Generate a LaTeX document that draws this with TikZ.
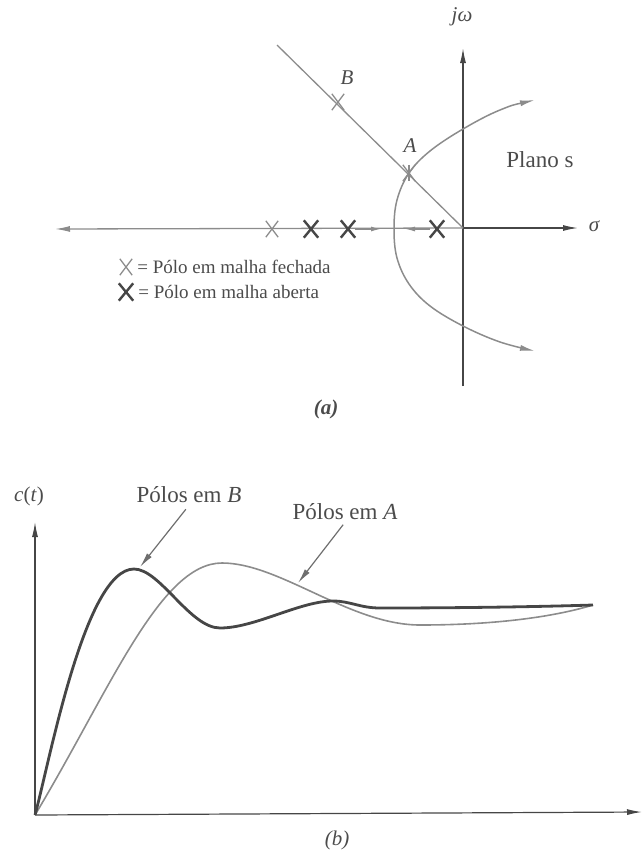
\documentclass[tikz,border=0pt]{standalone}
\usepackage{fontspec}
\setmainfont{Liberation Serif}
\usepackage{xcolor}
\definecolor{AxisGray}{RGB}{70,70,70}
\definecolor{LocusGray}{RGB}{140,140,140}
\definecolor{MidGray}{RGB}{110,110,110}
\definecolor{TextGray}{RGB}{75,75,75}
\usetikzlibrary{shapes.misc, arrows.meta, positioning, calc}
\tikzset{
  % Axes
  axis/.style={draw=AxisGray, line width=1.3pt, -{Latex[length=15pt,width=6pt]}},
  % Root locus branches
  locus/.style={draw=LocusGray, line width=1.5pt},
  locarr/.style={locus, -{Latex[length=10pt,width=5pt]}},
  % Poles
  clpole/.style={cross out, draw=LocusGray, line width=1.3pt,
    minimum width=11pt, minimum height=15pt, inner sep=0pt},
  olpole/.style={cross out, draw=AxisGray, line width=2.4pt,
    minimum width=12pt, minimum height=15pt, inner sep=0pt},
  % Step responses
  respB/.style={draw=AxisGray, line width=2.8pt, line join=round},
  respA/.style={draw=LocusGray, line width=1.6pt, line join=round},
  % Pointer arrows
  ptr/.style={draw=MidGray, line width=1.2pt, -{Latex[length=15pt,width=6pt]}},
  % Texts
  lbl/.style={text=TextGray, inner sep=2pt},
  big/.style={font=\fontsize{23}{27}\selectfont},
  small/.style={font=\fontsize{19}{23}\selectfont},
  ital/.style={font=\fontsize{21}{25}\selectfont\itshape},
}

\begin{document}
\begin{tikzpicture}[x=1pt, y=-1pt, font=\fontsize{21}{25}\selectfont]

  \useasboundingbox (0,0) rectangle (643,854);

  %% (a) s-plane
  \coordinate (O) at (463,228);
  \coordinate (jwtop) at (463,48);
  \coordinate (jwbot) at (463,386);
  \coordinate (sleft) at (55,229);
  \coordinate (sright) at (578,228);
  \coordinate (dtop) at (277,45);

  \draw[axis] (jwbot) -- (jwtop);
  \draw[locus, line width=1.3pt, {Latex[length=15pt,width=6pt]}-] (sleft) -- (O);
  \draw[axis] (O) -- (sright);
  \draw[locus, line width=1.3pt] (dtop) -- (O);

  \node[lbl, ital] (jw) at (462,17) {jω};
  \node[lbl, ital] (sig) at (594,226) {σ};
  \node[lbl, big] (plano) at (540,160) {Plano s};

  %% poles
  \node[clpole] (B) at (338,102) {};
  \node[clpole] (A) at (409,173) {};
  \node[clpole] (c1) at (272,229) {};
  \node[olpole] (p1) at (311,229) {};
  \node[olpole] (p2) at (348,229) {};
  \node[olpole] (p3) at (437,229) {};
  \draw[locus, line width=1.3pt] (A.north) -- (A.south);

  \node[lbl, ital] (labB) at (347,78) {B};
  \node[lbl, ital] (labA) at (410,146) {A};

  %% locus branches
  \coordinate (lup) at (535,100);
  \coordinate (llo) at (535,351);
  \coordinate (brkR) at (381,229);
  \coordinate (brkL) at (405,229);
  \draw[locus, {Latex[length=15pt,width=6pt]}-{Latex[length=15pt,width=6pt]}]
    plot[smooth, tension=0.6] coordinates {(lup) (500,110) (463,129) (430,151)
      (409,173) (397,200) (394,229) (397,258) (409,284) (430,306) (463,326)
      (500,342) (llo)};
  \draw[locarr] (p2) -- (brkR);
  \draw[locarr] (p3) -- (brkL);

  %% legend
  \node[clpole] (kcl) at (126,267) {};
  \node[lbl, small, right=3pt of kcl] (tcl) {= Pólo em malha fechada};
  \node[olpole] (kol) at (126,292) {};
  \node[lbl, small, right=3pt of kol] (tol) {= Pólo em malha aberta};

  \node[lbl, font=\fontsize{21}{25}\selectfont\bfseries\itshape] (capa) at (326,409) {(a)};

  %% (b) step responses
  \coordinate (O2) at (35,815);
  \coordinate (ytop) at (35,522);
  \coordinate (xend) at (642,812);
  \coordinate (ss) at (593,605);
  \draw[axis, line width=1.2pt] (O2) -- (ytop);
  \draw[axis, line width=1.2pt] (O2) -- (xend);
  \node[lbl] (ct) at (29,496) {\textit{c}(\textit{t})};

  % poles at A
  \draw[respA] (O2) .. controls (110,690) and (160,563) .. (222,563)
    .. controls (280,563) and (350,625) .. (420,625)
    .. controls (490,625) and (550,618) .. (ss);
  % poles at B
  \draw[respB] (O2) .. controls (50,760) and (85,569) .. (134,569)
    .. controls (160,569) and (190,628) .. (220,628)
    .. controls (255,628) and (300,601) .. (333,601)
    .. controls (350,601) and (360,608) .. (380,608)
    .. controls (450,608) and (530,607) .. (ss);

  \node[lbl, big] (lB) at (189,495) {Pólos em \textit{B}};
  \node[lbl, big] (lA) at (345,512) {Pólos em \textit{A}};
  \coordinate (pkB) at (140,567);
  \coordinate (pkA) at (298,583);
  \draw[ptr, shorten <=5pt] (lB.south) -- (pkB);
  \draw[ptr, shorten <=3pt] (lA.south) -- (pkA);

  \node[lbl, ital] (capb) at (337,840) {(b)};

\end{tikzpicture}
\end{document}
